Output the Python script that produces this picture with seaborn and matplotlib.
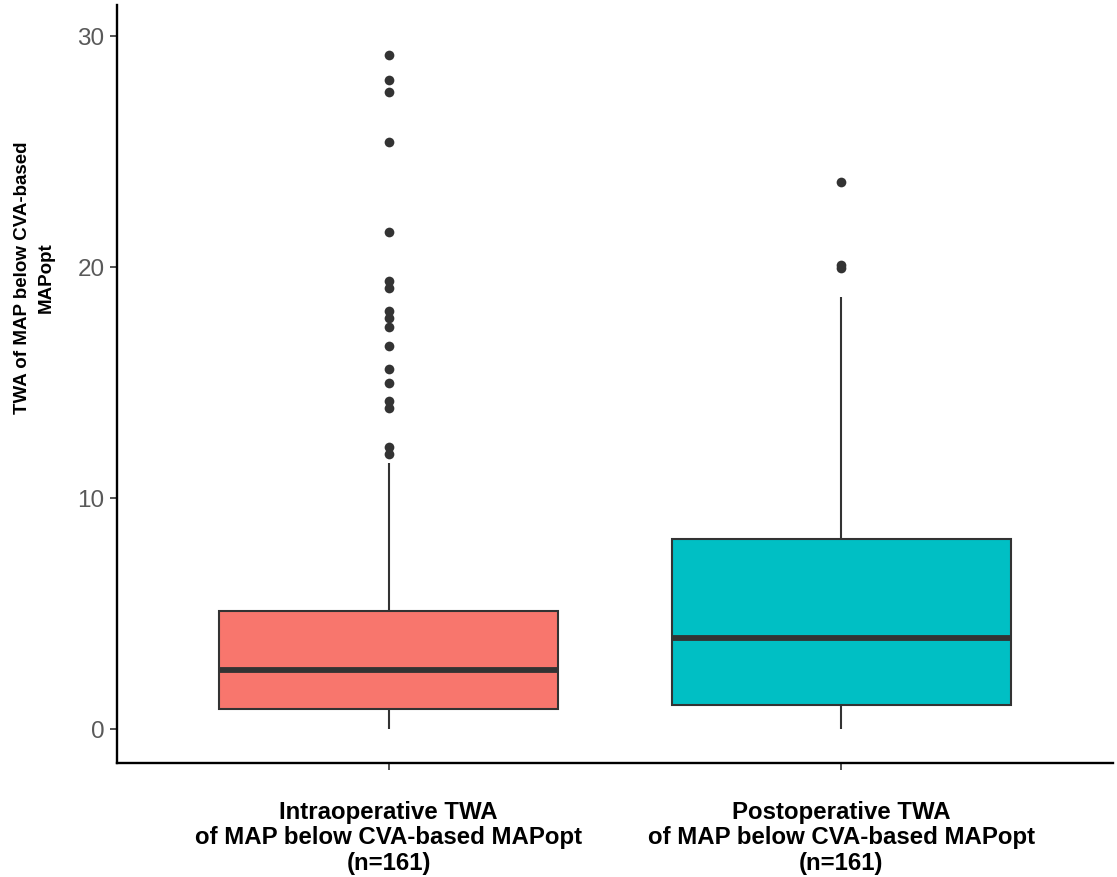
import numpy as np
import pandas as pd
import matplotlib
matplotlib.use("Agg")
import matplotlib.pyplot as plt
import seaborn as sns

# values (TWA of MAP below MAPopt)
groups = ["Intraoperative TWA\nof MAP below CVA-based MAPopt\n(n=161)",
          "Postoperative TWA\nof MAP below CVA-based MAPopt\n(n=161)"]
# five-number summary: lower whisker, Q1, median, Q3, upper whisker
intra_summary = [0.0, 0.87, 2.54, 5.12, 11.5]
post_summary = [0.0, 1.05, 3.94, 8.24, 18.7]
intra_outliers = [29.2, 28.1, 27.6, 25.4, 21.5, 19.4, 19.1, 18.1, 17.8,
                  17.4, 16.6, 15.6, 15.0, 14.2, 13.9, 12.2, 11.9]
post_outliers = [23.7, 20.1, 19.95]
colors = ["#F8766D", "#00BFC4"]

sns.set_theme(style="ticks")
plt.rcParams["font.family"] = ["Liberation Sans", "DejaVu Sans"]

box_df = pd.DataFrame({
    "group": [groups[0]] * len(intra_summary) + [groups[1]] * len(post_summary),
    "value": intra_summary + post_summary,
})
out_df = pd.DataFrame({
    "group": [groups[0]] * len(intra_outliers) + [groups[1]] * len(post_outliers),
    "value": intra_outliers + post_outliers,
})

fig = plt.figure(figsize=(11.17, 8.77), dpi=100)
ax = fig.add_axes([117 / 1117, 114 / 877, 996 / 1117, 758 / 877])

sns.boxplot(data=box_df, x="group", y="value", hue="group", order=groups,
            hue_order=groups, palette=colors, saturation=1, width=0.75,
            whis=(0, 100), showcaps=False, linecolor="#333333", linewidth=1.5,
            medianprops={"linewidth": 4.2, "color": "#333333"},
            legend=False, ax=ax)
sns.stripplot(data=out_df, x="group", y="value", order=groups, jitter=False,
              color="#333333", size=7, ax=ax)

ax.set_xlim(-0.6, 1.6)
ax.set_ylim(-1.47, 31.35)
ax.set_yticks([0, 10, 20, 30])
ax.set_xlabel("")
ax.set_ylabel("TWA of MAP below CVA-based\nMAPopt", fontsize=13.5, fontweight="bold",
              color="black", va="center", ha="center", linespacing=1.45)
ax.yaxis.set_label_coords(-0.083, 0.64)

for s in ["top", "right"]:
    ax.spines[s].set_visible(False)
for s in ["left", "bottom"]:
    ax.spines[s].set_linewidth(1.7)
    ax.spines[s].set_color("black")

ax.tick_params(axis="y", labelsize=17.5, labelcolor="#595959", length=5,
               width=1.2, color="#333333", pad=4)
ax.tick_params(axis="x", labelsize=17.3, labelcolor="black", length=5,
               width=1.2, color="#333333", pad=22)
for lbl in ax.get_xticklabels():
    lbl.set_fontweight("bold")
    lbl.set_linespacing(1.16)

fig.savefig("out.png", dpi=100)
